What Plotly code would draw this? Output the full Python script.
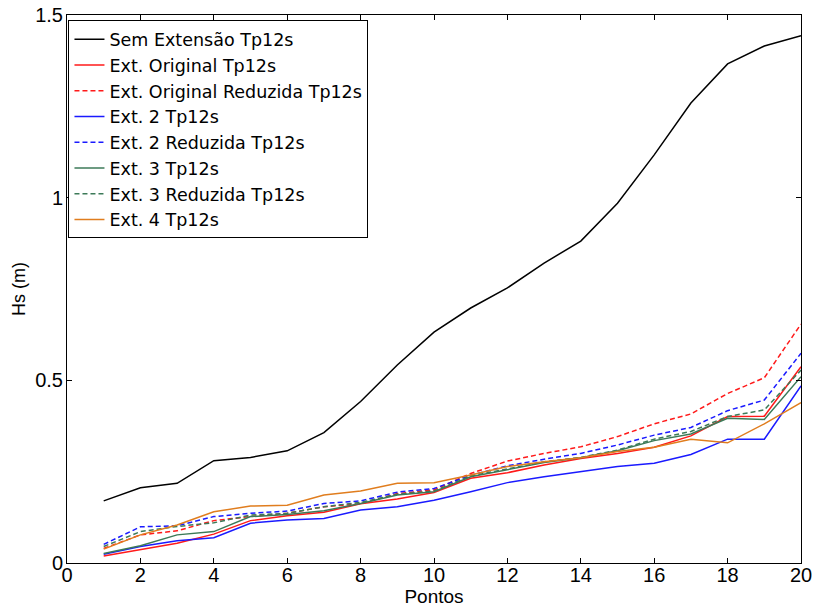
import plotly.graph_objects as go

pontos = list(range(1, 21))

sem_extensao = [0.170, 0.206, 0.218, 0.280, 0.289, 0.307, 0.357, 0.442, 0.542, 0.632,
                0.698, 0.753, 0.821, 0.881, 0.985, 1.117, 1.259, 1.366, 1.415, 1.443]
ext_original = [0.019, 0.036, 0.054, 0.079, 0.116, 0.129, 0.139, 0.162, 0.175, 0.193,
                0.232, 0.247, 0.268, 0.286, 0.300, 0.317, 0.348, 0.401, 0.402, 0.537]
ext_original_red = [0.040, 0.077, 0.088, 0.116, 0.127, 0.136, 0.154, 0.162, 0.190, 0.200,
                    0.245, 0.279, 0.300, 0.318, 0.346, 0.381, 0.408, 0.464, 0.507, 0.654]
ext2 = [0.024, 0.045, 0.061, 0.069, 0.109, 0.118, 0.122, 0.145, 0.154, 0.172,
        0.195, 0.220, 0.236, 0.250, 0.264, 0.273, 0.297, 0.339, 0.339, 0.485]
ext2_red = [0.051, 0.099, 0.102, 0.127, 0.136, 0.142, 0.163, 0.170, 0.194, 0.204,
            0.240, 0.266, 0.284, 0.300, 0.323, 0.350, 0.371, 0.417, 0.446, 0.574]
ext3 = [0.026, 0.047, 0.077, 0.086, 0.127, 0.133, 0.143, 0.163, 0.186, 0.195,
        0.236, 0.255, 0.275, 0.288, 0.307, 0.335, 0.353, 0.396, 0.393, 0.510]
ext3_red = [0.045, 0.086, 0.100, 0.110, 0.131, 0.136, 0.154, 0.166, 0.188, 0.197,
            0.238, 0.258, 0.277, 0.289, 0.309, 0.339, 0.360, 0.401, 0.419, 0.528]
ext4 = [0.038, 0.077, 0.104, 0.140, 0.156, 0.158, 0.186, 0.197, 0.218, 0.220,
        0.241, 0.264, 0.277, 0.288, 0.305, 0.317, 0.339, 0.329, 0.381, 0.439]

names = ["Sem Extensão Tp12s", "Ext. Original Tp12s", "Ext. Original Reduzida Tp12s",
         "Ext. 2 Tp12s", "Ext. 2 Reduzida Tp12s", "Ext. 3 Tp12s",
         "Ext. 3 Reduzida Tp12s", "Ext. 4 Tp12s"]
series = [sem_extensao, ext_original, ext_original_red, ext2, ext2_red, ext3, ext3_red, ext4]
colors = ["#000000", "#ff1a1a", "#ff1a1a", "#1a1aff", "#1a1aff", "#3c7a58", "#3c7a58", "#e07d1e"]
dashes = ["solid", "solid", "5px,3px", "solid", "5px,3px", "solid", "5px,3px", "solid"]

fig = go.Figure()
for name, ys, c, d in zip(names, series, colors, dashes):
    fig.add_trace(go.Scatter(x=pontos, y=ys, mode="lines", name=name,
                             line=dict(color=c, width=1.5, dash=d)))

axis_common = dict(showline=True, linecolor="black", linewidth=1, mirror="allticks",
                   ticks="inside", ticklen=5, tickcolor="black", showgrid=False,
                   zeroline=False, automargin=False,
                   tickfont=dict(size=20, color="black"))

fig.update_layout(
    width=814, height=608,
    margin=dict(l=67, r=13, t=15, b=45),
    paper_bgcolor="white", plot_bgcolor="white",
    font=dict(family="Liberation Sans, Arial, sans-serif", color="black"),
    xaxis=dict(range=[0, 20], dtick=2, tick0=0, ticklabelstandoff=-6,
               title=dict(text="Pontos", font=dict(size=19), standoff=0), **axis_common),
    yaxis=dict(range=[0, 1.5], tickvals=[0, 0.5, 1, 1.5], ticktext=["0", "0.5", "1", "1.5"],
               ticklabelstandoff=-1,
               title=dict(text="Hs (m)", font=dict(size=18), standoff=4), **axis_common),
    legend=dict(x=0.002, y=0.99, xanchor="left", yanchor="top",
                bgcolor="white", bordercolor="black", borderwidth=1,
                font=dict(family="DejaVu Sans", size=17.5, color="black"),
                tracegroupgap=0, itemwidth=30),
)

fig.write_html("out.html")
